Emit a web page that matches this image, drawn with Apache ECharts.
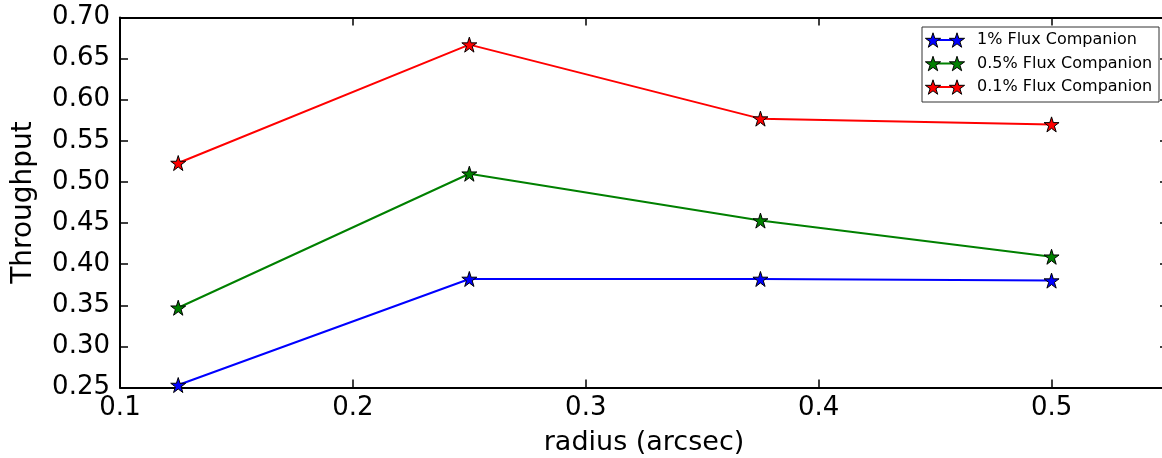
<!DOCTYPE html>
<html>
<head>
<meta charset="utf-8">
<script src="https://cdn.jsdelivr.net/npm/echarts@6/dist/echarts.min.js"></script>
<style>
  html, body { margin: 0; padding: 0; background: #fff; }
  #chart { width: 1162px; height: 458px; }
</style>
</head>
<body>
<div id="chart"></div>
<script>
// Throughput vs. separation for injected companions of different brightness
const radius = [0.125, 0.25, 0.375, 0.5];
const flux1 = [0.253, 0.382, 0.382, 0.380];
const flux05 = [0.347, 0.510, 0.453, 0.409];
const flux01 = [0.523, 0.667, 0.577, 0.570];
const seriesNames = ['1% Flux Companion', '0.5% Flux Companion', '0.1% Flux Companion'];
const seriesColors = ['#0000ff', '#008000', '#ff0000'];
const xTicks = [0.1, 0.2, 0.3, 0.4, 0.5];

const FONT = 'DejaVu Sans';

// five-pointed star outline (outer radius 1, inner radius 0.382)
function starPoints(cx, cy, r) {
  const pts = [];
  for (let i = 0; i < 10; i++) {
    const a = -Math.PI / 2 + i * Math.PI / 5;
    const rr = (i % 2 === 0) ? r : r * 0.382;
    pts.push([cx + rr * Math.cos(a), cy + rr * Math.sin(a)]);
  }
  return pts;
}
const starPath = 'path://' + starPoints(0, 0, 100)
  .map((p, i) => (i ? 'L' : 'M') + p[0].toFixed(2) + ' ' + p[1].toFixed(2)).join(' ') + ' Z';

const chart = echarts.init(document.getElementById('chart'), null, { renderer: 'canvas' });

const seriesValues = [flux1, flux05, flux01];
const series = seriesValues.map((vals, k) => ({
  name: seriesNames[k],
  type: 'line',
  xAxisIndex: 0,
  yAxisIndex: 0,
  data: radius.map((r, i) => [r, vals[i]]),
  symbol: starPath,
  symbolSize: 15,
  lineStyle: { color: seriesColors[k], width: 2 },
  itemStyle: { color: seriesColors[k], borderColor: '#000', borderWidth: 1 },
  emphasis: { disabled: true },
  animation: false,
  z: 3
}));

// legend box drawn with graphic elements (line + two stars per entry)
const legendX = 922, legendY = 27, legendW = 237, legendH = 75;
const rowY = [40, 63.5, 87];
const legendChildren = [{
  type: 'rect',
  shape: { x: legendX, y: legendY, width: legendW, height: legendH },
  style: { fill: '#fff', stroke: '#333', lineWidth: 1 }
}];
seriesNames.forEach((name, k) => {
  const y = rowY[k];
  legendChildren.push({
    type: 'line',
    shape: { x1: 933, y1: y, x2: 957, y2: y },
    style: { stroke: seriesColors[k], lineWidth: 2 }
  });
  [933, 957].forEach(cx => {
    legendChildren.push({
      type: 'polygon',
      shape: { points: starPoints(cx, y + 0.8, 8) },
      style: { fill: seriesColors[k], stroke: '#000', lineWidth: 1 }
    });
  });
  legendChildren.push({
    type: 'text',
    x: 977, y: y,
    style: { text: name, fill: '#000', font: '16px "DejaVu Sans"', verticalAlign: 'middle', align: 'left' }
  });
});

const baseX = {
  type: 'value', min: 0.1, max: 0.55, interval: 0.1,
  splitLine: { show: false },
  axisLine: { show: true, onZero: false, lineStyle: { color: '#000', width: 2 } },
  axisTick: { show: true, inside: true, length: 8, lineStyle: { color: '#000', width: 1.5 } }
};
const baseY = {
  type: 'value', min: 0.25, max: 0.70, interval: 0.05,
  splitLine: { show: false },
  axisLine: { show: true, onZero: false, lineStyle: { color: '#000', width: 2 } },
  axisTick: { show: true, inside: true, length: 8, lineStyle: { color: '#000', width: 1.5 } }
};

chart.setOption({
  animation: false,
  backgroundColor: '#fff',
  grid: {
    left: 120, top: 17.5, width: 1048, height: 370,
    containLabel: false, outerBoundsMode: 'none'
  },
  xAxis: [
    Object.assign({}, baseX, {
      position: 'bottom',
      name: 'radius (arcsec)',
      nameLocation: 'middle',
      nameGap: 42,
      nameTextStyle: { fontFamily: FONT, fontSize: 27, color: '#000' },
      axisLabel: {
        fontFamily: FONT, fontSize: 26, color: '#000', margin: 8,
        formatter: v => xTicks.some(t => Math.abs(t - v) < 1e-9) ? String(+v.toFixed(1)) : ''
      }
    }),
    Object.assign({}, baseX, { position: 'top', axisLabel: { show: false } })
  ],
  yAxis: [
    Object.assign({}, baseY, {
      position: 'left',
      name: 'Throughput',
      nameLocation: 'middle',
      nameGap: 82,
      nameTextStyle: { fontFamily: FONT, fontSize: 28, color: '#000' },
      axisLabel: {
        fontFamily: FONT, fontSize: 26, color: '#000', margin: 10,
        formatter: v => v.toFixed(2)
      }
    }),
    Object.assign({}, baseY, { position: 'right', axisLabel: { show: false } })
  ],
  series: series,
  graphic: [{ type: 'group', children: legendChildren, z: 10 }]
});
</script>
</body>
</html>
